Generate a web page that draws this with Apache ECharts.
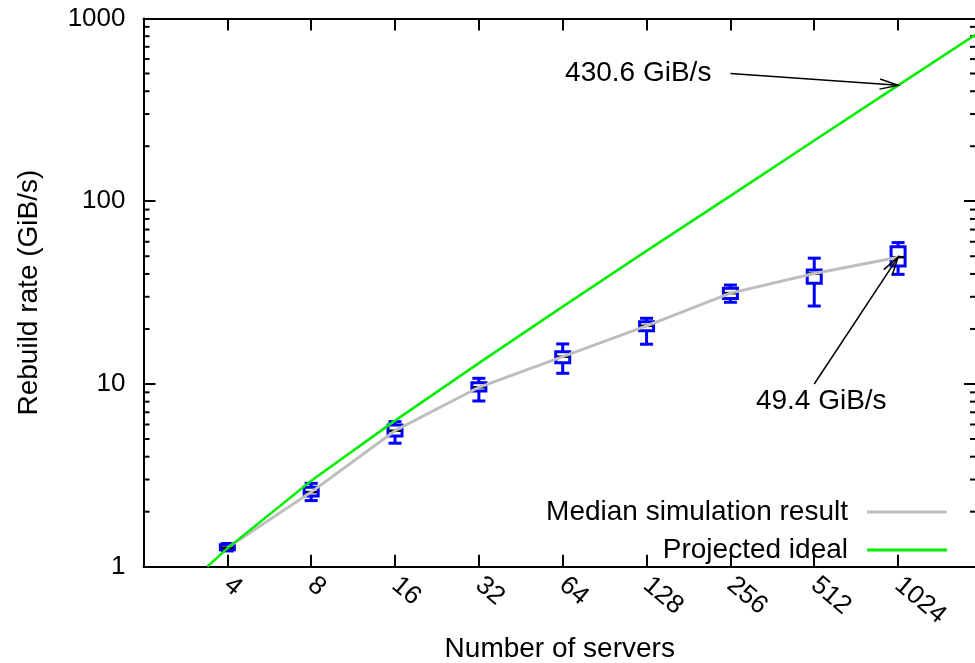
<!DOCTYPE html>
<html>
<head>
<meta charset="UTF-8">
<title>Rebuild rate</title>
<script src="https://cdn.jsdelivr.net/npm/echarts@6/dist/echarts.min.js"></script>
<style>
* { margin: 0; padding: 0; }
#main { width: 975px; height: 663px; }
</style>
</head>
<body>
<div id="main"></div>
<script>
// number of servers and the rebuild rate spread (GiB/s)
var servers = [4, 8, 16, 32, 64, 128, 256, 512, 1024];
var whiskerLow = [1.22, 2.30, 4.74, 8.07, 11.44, 16.5, 28.0, 26.7, 39.8];
var boxLow = [1.24, 2.44, 5.19, 9.16, 13.08, 19.57, 29.4, 35.6, 44.2];
var medians = [1.27, 2.56, 5.55, 9.59, 14.1, 20.8, 31.4, 40.2, 49.4];
var boxHigh = [1.32, 2.72, 5.97, 10.16, 15.02, 21.9, 33.4, 42.1, 56.4];
var whiskerHigh = [1.34, 2.86, 6.22, 10.74, 16.56, 22.88, 34.8, 48.8, 59.4];

// projected ideal line
var idealServers = [3.39, 4, 8, 16, 32, 64, 128, 256, 512, 1024, 1950];
var idealRate = [1.0, 1.26, 2.95, 6.3, 13.0, 26.5, 53.5, 107, 215, 430.6, 820];

var xMinServers = 2;
var xMaxServers = 1950;
var yMinorTicks = [2, 3, 4, 5, 6, 7, 8, 9, 20, 30, 40, 50, 60, 70, 80, 90,
                   200, 300, 400, 500, 600, 700, 800, 900];

// arrows: text, from [servers, rate], to [servers, rate]
var noteText = ['430.6 GiB/s', '49.4 GiB/s'];
var noteFrom = [[256, 500], [512, 10]];
var noteTo = [[1024, 430.6], [1024, 49.4]];
var noteLabelPos = [{dx: -19, dy: 0, align: 'right'}, {dx: 7, dy: 17, align: 'center'}];

var FONT = "'Liberation Sans', Arial, sans-serif";
var lg = Math.log2;
var xMin = lg(xMinServers), xMax = lg(xMaxServers);

var chart = echarts.init(document.getElementById('main'));

function xLabel(v) {
  if (v < 2 || Math.abs(v - Math.round(v)) > 1e-6) return '';
  return String(Math.pow(2, Math.round(v)));
}

var axisLine = { show: true, onZero: false, lineStyle: { color: '#000', width: 2 } };
var tickIn = { show: true, inside: true, length: 12, lineStyle: { color: '#000', width: 2 } };

var option = {
  animation: false,
  textStyle: { fontFamily: FONT, color: '#000' },
  grid: { left: 143.5, right: -1, top: 18.5, bottom: 96.3, containLabel: false, outerBoundsMode: 'none' },
  legend: {
    data: ['Median simulation result', 'Projected ideal'],
    orient: 'vertical',
    align: 'right',
    right: 28,
    top: 497,
    padding: 0,
    icon: 'rect',
    itemWidth: 80,
    itemHeight: 3,
    itemGap: 8,
    selectedMode: false,
    textStyle: { fontSize: 28, lineHeight: 30, color: '#000', fontFamily: FONT, padding: [0, 14, 0, 0] }
  },
  xAxis: [{
    type: 'value', min: xMin, max: xMax, interval: 1,
    name: 'Number of servers', nameLocation: 'middle', nameGap: 68,
    nameTextStyle: { fontSize: 28, color: '#000' },
    axisLine: axisLine, axisTick: tickIn, splitLine: { show: false },
    axisLabel: { rotate: -40, margin: 15, fontSize: 26, color: '#000', formatter: xLabel }
  }, {
    type: 'value', min: xMin, max: xMax, interval: 1, position: 'top',
    axisLine: axisLine, axisTick: tickIn, splitLine: { show: false },
    axisLabel: { show: false }
  }],
  yAxis: [{
    type: 'log', logBase: 10, min: 1, max: 1000,
    name: 'Rebuild rate (GiB/s)', nameLocation: 'middle', nameGap: 100,
    nameTextStyle: { fontSize: 28, color: '#000' },
    axisLine: axisLine, axisTick: tickIn, splitLine: { show: false },
    axisLabel: { fontSize: 26, margin: 18, color: '#000', formatter: function (v) { return String(Math.round(v)); } }
  }, {
    type: 'log', logBase: 10, min: 1, max: 1000, position: 'right',
    axisLine: axisLine, axisTick: tickIn, splitLine: { show: false },
    axisLabel: { show: false }
  }],
  series: [{
    // minor ticks of the log axis on both sides
    type: 'custom', silent: true, clip: false, z: 1,
    encode: { x: [0, 2], y: 1 },
    data: yMinorTicks.map(function (v) { return [xMin, v, xMax]; }),
    renderItem: function (params, api) {
      var l = api.coord([api.value(0), api.value(1)]);
      var r = api.coord([api.value(2), api.value(1)]);
      var st = { stroke: '#000', lineWidth: 2 };
      return { type: 'group', children: [
        { type: 'line', shape: { x1: l[0], y1: l[1], x2: l[0] + 6, y2: l[1] }, style: st },
        { type: 'line', shape: { x1: r[0], y1: r[1], x2: r[0] - 6, y2: r[1] }, style: st }
      ] };
    }
  }, {
    // candlesticks with whisker bars
    type: 'custom', silent: true, z: 2,
    encode: { x: 0, y: [1, 2, 3, 4, 5] },
    data: servers.map(function (n, i) {
      return [lg(n), whiskerLow[i], boxLow[i], medians[i], boxHigh[i], whiskerHigh[i]];
    }),
    renderItem: function (params, api) {
      var x = api.value(0);
      var pMin = api.coord([x, api.value(1)]);
      var pQ1 = api.coord([x, api.value(2)]);
      var pMed = api.coord([x, api.value(3)]);
      var pQ3 = api.coord([x, api.value(4)]);
      var pMax = api.coord([x, api.value(5)]);
      var cx = pMin[0], hw = 7, cw = 6.5;
      var blue = { stroke: '#0000ff', lineWidth: 3 };
      return { type: 'group', children: [
        { type: 'line', shape: { x1: cx, y1: pMax[1], x2: cx, y2: pQ3[1] }, style: blue },
        { type: 'line', shape: { x1: cx, y1: pQ1[1], x2: cx, y2: pMin[1] }, style: blue },
        { type: 'line', shape: { x1: cx - cw, y1: pMax[1], x2: cx + cw, y2: pMax[1] }, style: blue },
        { type: 'line', shape: { x1: cx - cw, y1: pMin[1], x2: cx + cw, y2: pMin[1] }, style: blue },
        { type: 'rect', shape: { x: cx - hw, y: pQ3[1], width: 2 * hw, height: pQ1[1] - pQ3[1] },
          style: { fill: '#fff', stroke: '#0000ff', lineWidth: 3 } },
        { type: 'line', shape: { x1: cx - hw + 1, y1: pMed[1], x2: cx + hw - 1, y2: pMed[1] },
          style: { stroke: '#000', lineWidth: 2.5 } }
      ] };
    }
  }, {
    name: 'Median simulation result',
    type: 'line', z: 3, symbol: 'none', showSymbol: false, silent: true,
    color: '#bebebe',
    lineStyle: { color: '#bebebe', width: 3 },
    data: servers.map(function (n, i) { return [lg(n), medians[i]]; })
  }, {
    name: 'Projected ideal',
    type: 'line', z: 4, symbol: 'none', showSymbol: false, silent: true,
    color: '#00ee00',
    lineStyle: { color: '#00ee00', width: 2.5 },
    data: idealServers.map(function (n, i) { return [lg(n), idealRate[i]]; })
  }, {
    // labelled arrows
    type: 'custom', silent: true, clip: false, z: 5,
    encode: { x: [0, 2], y: [1, 3] },
    data: noteFrom.map(function (f, i) { return [lg(f[0]), f[1], lg(noteTo[i][0]), noteTo[i][1]]; }),
    renderItem: function (params, api) {
      var i = params.dataIndex;
      var p0 = api.coord([api.value(0), api.value(1)]);
      var p1 = api.coord([api.value(2), api.value(3)]);
      var ang = Math.atan2(p1[1] - p0[1], p1[0] - p0[0]);
      var len = 19, spread = 0.27;
      var h1 = [p1[0] - len * Math.cos(ang - spread), p1[1] - len * Math.sin(ang - spread)];
      var h2 = [p1[0] - len * Math.cos(ang + spread), p1[1] - len * Math.sin(ang + spread)];
      var pos = noteLabelPos[i];
      var st = { stroke: '#000', lineWidth: 1.5, fill: null };
      return { type: 'group', children: [
        { type: 'line', shape: { x1: p0[0], y1: p0[1], x2: p1[0], y2: p1[1] }, style: st },
        { type: 'polyline', shape: { points: [h1, p1, h2] }, style: st },
        { type: 'text', x: p0[0] + pos.dx, y: p0[1] + pos.dy,
          style: { text: noteText[i], fontSize: 28, fontFamily: FONT, fill: '#000',
                   textAlign: pos.align, textVerticalAlign: 'middle' } }
      ] };
    }
  }]
};

chart.setOption(option);
</script>
</body>
</html>
